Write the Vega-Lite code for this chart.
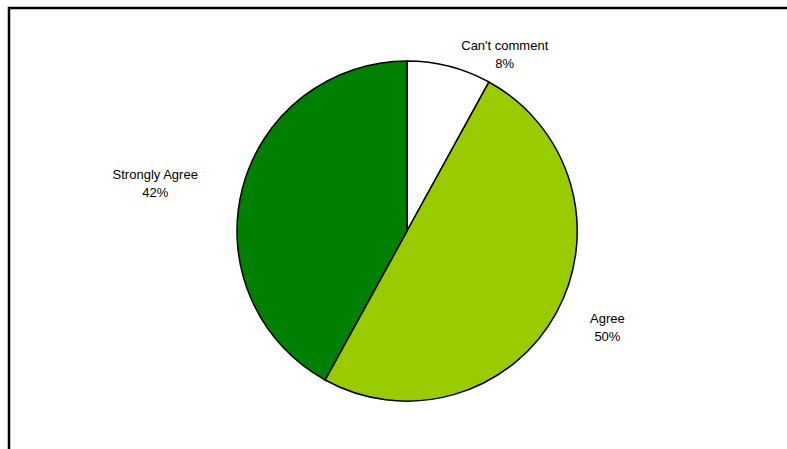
{
  "$schema": "https://vega.github.io/schema/vega-lite/v6.json",
  "autosize": {"type": "none"},
  "width": 796,
  "height": 446,
  "padding": {"left": 9, "top": 8, "right": -18, "bottom": -5},
  "background": "white",
  "view": {"stroke": "black", "strokeWidth": 2.5, "fill": "white"},
  "config": {
    "view": {"stroke": "black", "strokeWidth": 2.5},
    "text": {"font": "Liberation Sans", "fontSize": 13, "fill": "#000000"}
  },
  "data": {
    "values": [
      {"category": "Can't comment", "percent": 8, "order": 1, "label": "Can't comment\n8%"},
      {"category": "Agree", "percent": 50, "order": 2, "label": "Agree\n50%"},
      {"category": "Strongly Agree", "percent": 42, "order": 3, "label": "Strongly Agree\n42%"}
    ]
  },
  "encoding": {
    "theta": {"field": "percent", "type": "quantitative", "stack": true},
    "order": {"field": "order", "type": "quantitative"}
  },
  "layer": [
    {
      "mark": {"type": "arc", "outerRadius": 170, "stroke": "black", "strokeWidth": 1.5},
      "encoding": {
        "color": {
          "field": "category",
          "type": "nominal",
          "scale": {"domain": ["Can't comment", "Agree", "Strongly Agree"], "range": ["#FFFFFF", "#99CC00", "#008000"]},
          "legend": null
        }
      }
    },
    {
      "mark": {"type": "text", "radius": 200, "dx": 48, "dy": 9, "lineBreak": "\n", "lineHeight": 18, "baseline": "middle", "align": "center"},
      "encoding": {
        "text": {"condition": {"test": "datum.category === \"Can't comment\"", "field": "label"}, "value": ""}
      }
    },
    {
      "mark": {"type": "text", "radius": 215, "dx": 12, "dy": -16, "lineBreak": "\n", "lineHeight": 18, "baseline": "middle", "align": "center"},
      "encoding": {
        "text": {"condition": {"test": "datum.category === 'Agree'", "field": "label"}, "value": ""}
      }
    },
    {
      "mark": {"type": "text", "radius": 230, "dx": -29, "dy": 1, "lineBreak": "\n", "lineHeight": 18, "baseline": "middle", "align": "center"},
      "encoding": {
        "text": {"condition": {"test": "datum.category === 'Strongly Agree'", "field": "label"}, "value": ""}
      }
    }
  ]
}
